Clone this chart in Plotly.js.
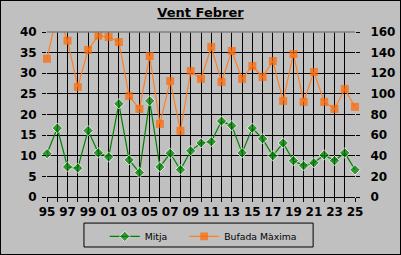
<!DOCTYPE html>
<html><head><meta charset="utf-8">
<script src="https://cdn.plot.ly/plotly-3.0.1.min.js"></script>
<style>html,body{margin:0;padding:0;background:#c0c0c0}#c{width:399px;height:253px;border:1px solid #000}</style>
</head><body><div id="c"></div>
<script>
const years = [1995,1996,1997,1998,1999,2000,2001,2002,2003,2004,2005,2006,2007,2008,2009,2010,2011,2012,2013,2014,2015,2016,2017,2018,2019,2020,2021,2022,2023,2024,2025];
const mitja = [10.5,16.7,7.3,7.0,16.1,10.7,9.7,22.6,9.0,5.9,23.3,7.3,10.6,6.6,11.2,13.1,13.4,18.4,17.3,10.7,16.7,14.1,10.0,13.1,8.8,7.6,8.3,10.2,8.8,10.7,6.6];
const bufada = [134,178,151.6,106.7,142.6,156.4,155.1,150.3,98,85.4,136.7,70.9,112.5,64.1,122.2,114.5,145.5,111.6,141.6,114.5,127,116.4,131.9,93.2,138.7,92.2,121.3,92.2,85.4,104.8,87.4];
const tickYears = [1995,1997,1999,2001,2003,2005,2007,2009,2011,2013,2015,2017,2019,2021,2023,2025];
const tickText = ["95","97","99","01","03","05","07","09","11","13","15","17","19","21","23","25"];

const F = 'DejaVu Sans, Verdana, sans-serif';
const Y1MAX = 40, Y2MAX = 160;
const traces = [
  {x: years, y: mitja, name: 'Mitja', type: 'scatter', mode: 'lines+markers', cliponaxis: false, legend: 'legend',
   line: {color: '#008000', width: 1.2},
   marker: {symbol: 'diamond', size: mitja.map(v => v > Y1MAX ? 0 : 8), color: '#008000'}},
  {x: years, y: bufada, name: 'Bufada Màxima', type: 'scatter', mode: 'lines+markers', yaxis: 'y2', cliponaxis: false, legend: 'legend2',
   line: {color: '#ff7f27', width: 1.2},
   marker: {symbol: 'square', size: bufada.map(v => v > Y2MAX ? 0 : 8), color: '#ff6600', line: {width: 0}}}
];
const legBase = {orientation: 'h', xref: 'container', yref: 'container', xanchor: 'left', y: 0.127, yanchor: 'top',
  bgcolor: 'rgba(0,0,0,0)', borderwidth: 0, font: {family: F, size: 9.3, color: '#000'}, itemwidth: 30};
const layout = {
  width: 399, height: 253,
  paper_bgcolor: '#c0c0c0', plot_bgcolor: '#c0c0c0',
  margin: {l: 46, r: 45, t: 31, b: 57},
  showlegend: true,
  title: {text: '<b><u>Vent Febrer</u></b>', font: {family: F, size: 13, color: '#000'}, x: 0.5, xanchor: 'center', y: 0.955, yanchor: 'middle'},
  font: {family: F, color: '#000'},
  xaxis: {range: [1995, 2025], tickvals: tickYears, ticktext: tickText, showgrid: true, gridcolor: '#000', gridwidth: 1,
          minor: {dtick: 1, showgrid: true, gridcolor: '#000', gridwidth: 1, ticks: 'outside', ticklen: 4, tickcolor: '#000'},
          ticks: 'outside', ticklen: 4, tickcolor: '#000', showline: true, linecolor: '#000', linewidth: 1,
          zeroline: false, tickfont: {family: F, size: 12, color: '#000', weight: 'bold'}, fixedrange: true, automargin: false},
  yaxis: {range: [0, Y1MAX], dtick: 5, showgrid: true, gridcolor: '#000', gridwidth: 1, ticks: 'outside', ticklen: 4, tickcolor: '#000',
          ticklabelstandoff: 3, zeroline: false, showline: false, tickfont: {family: F, size: 12, color: '#000', weight: 'bold'}, fixedrange: true, automargin: false},
  yaxis2: {range: [0, Y2MAX], dtick: 20, overlaying: 'y', side: 'right', showgrid: false, ticks: 'outside', ticklen: 4, tickcolor: '#000',
           ticklabelstandoff: 8, zeroline: false, showline: false, tickfont: {family: F, size: 12, color: '#000', weight: 'bold'}, fixedrange: true, automargin: false},
  legend: Object.assign({}, legBase, {x: 0.26}),
  legend2: Object.assign({}, legBase, {x: 0.459}),
  shapes: [
    {type: 'line', xref: 'paper', yref: 'paper', x0: 0, x1: 1, y0: 1, y1: 1, line: {color: '#808080', width: 1.5}},
    {type: 'rect', xref: 'paper', yref: 'paper', x0: 0.120, x1: 0.864, y0: -0.303, y1: -0.158, line: {color: '#000', width: 1}}
  ]
};
Plotly.newPlot('c', traces, layout, {staticPlot: true, displayModeBar: false});
</script></body></html>
